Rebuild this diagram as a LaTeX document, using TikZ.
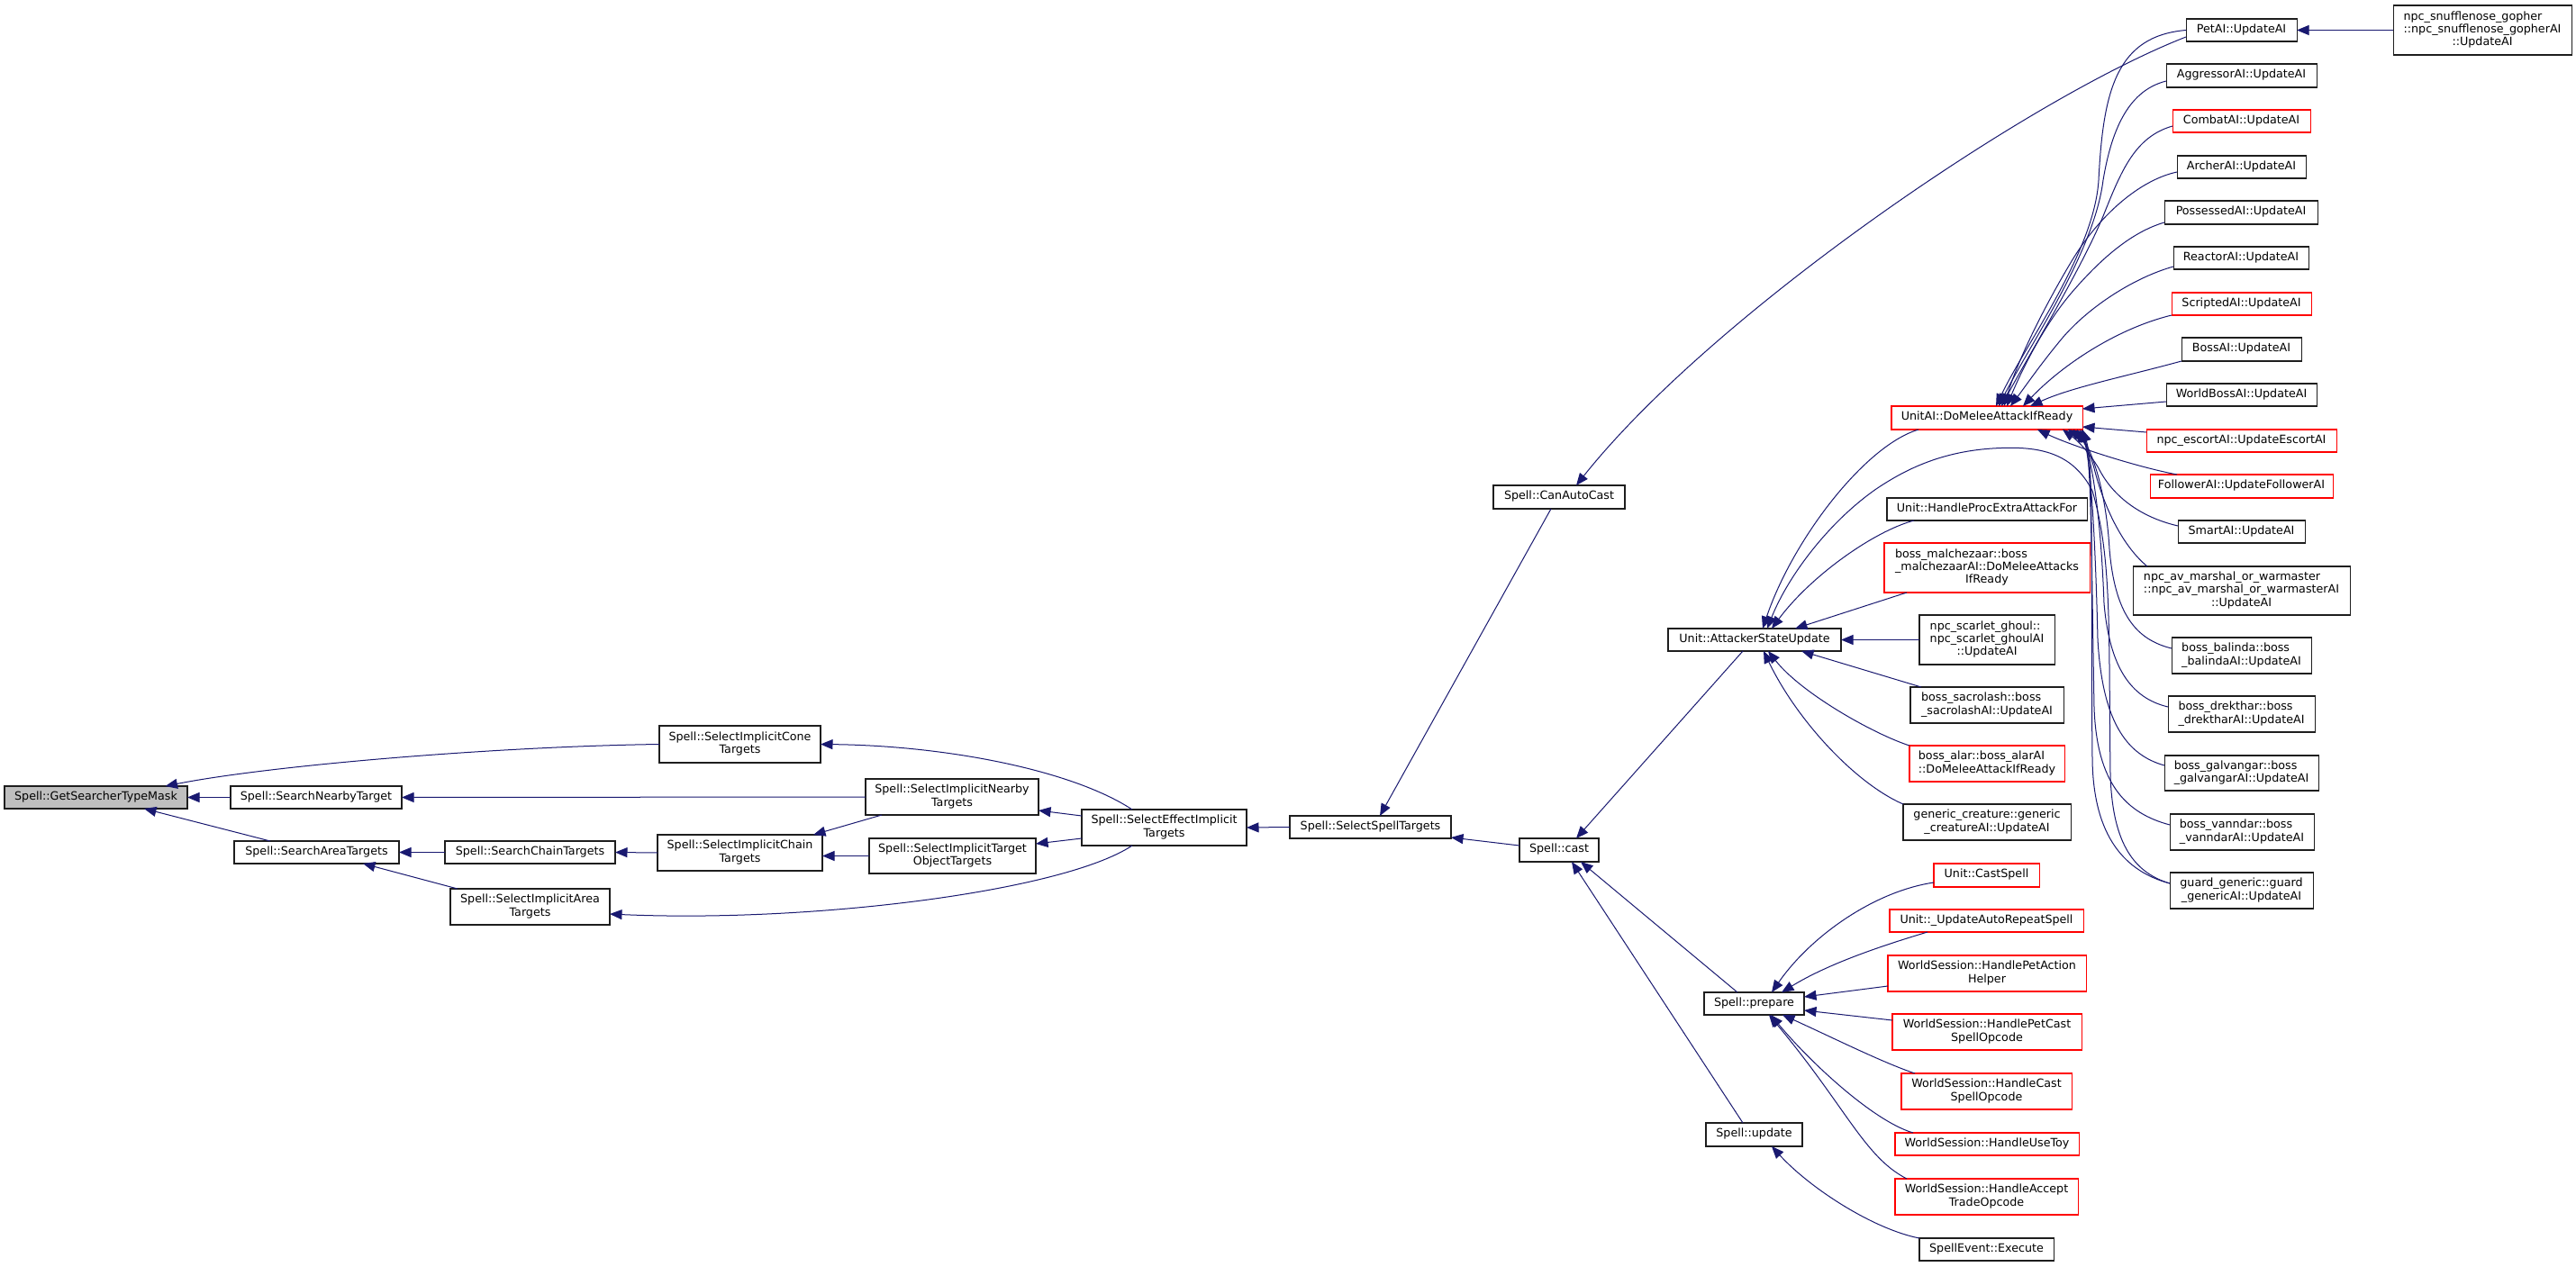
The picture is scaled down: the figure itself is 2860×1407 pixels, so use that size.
\documentclass[tikz,border=0pt]{standalone}
\usepackage{fontspec}
\setmainfont{DejaVu Sans}
\usetikzlibrary{arrows.meta}
\definecolor{edgec}{RGB}{25,25,112}
\definecolor{rootfill}{RGB}{191,191,191}
\definecolor{redb}{RGB}{255,0,0}
\definecolor{bordc}{RGB}{30,30,30}
\newcommand\bx[7]{%
  \pgfmathsetmacro\bxw{#4-#2}\pgfmathsetmacro\bxh{#5-#3}%
  \node[#6, minimum width=\bxw pt, minimum height=\bxh pt] (#1) at ({(#2+#4)/2},{(#3+#5)/2}) {#7};}
\newcommand\ml[2]{\begin{tabular}{@{}l@{}}#1\\\multicolumn{1}{@{}c@{}}{#2}\end{tabular}}
\newcommand\one[1]{\strut #1}
\begin{document}
\begin{tikzpicture}[x=1pt,y=-1pt,
  box/.style={draw=bordc, line width=1.05pt, inner sep=0pt, outer sep=0pt, fill=white, font=\fontsize{12.7}{14.3}\selectfont},
  redbox/.style={box, draw=redb},
  rootbox/.style={box, fill=rootfill},
  edge/.style={draw=edgec, line width=1.0pt, -{Triangle[length=13.5pt,width=11pt]}}]
\fill[white] (0,0) rectangle (2860,1407);
\useasboundingbox (0,0) rectangle (2860,1407);
% nodes
\bx{n0}{5}{873}{208}{898}{rootbox}{\one{Spell::GetSearcherTypeMask}}
\bx{n1}{256}{873}{446}{898}{box}{\one{Spell::SearchNearbyTarget}}
\bx{n2}{260}{934}{443}{959}{box}{\one{Spell::SearchAreaTargets}}
\bx{n3}{494}{934}{683}{959}{box}{\one{Spell::SearchChainTargets}}
\bx{n4}{500}{987}{677}{1027}{box}{\ml{Spell::SelectImplicitArea}{Targets}}
\bx{n5}{732}{806}{911}{847}{box}{\ml{Spell::SelectImplicitCone}{Targets}}
\bx{n6}{961}{865}{1153}{905}{box}{\ml{Spell::SelectImplicitNearby}{Targets}}
\bx{n7}{730}{927}{913}{967}{box}{\ml{Spell::SelectImplicitChain}{Targets}}
\bx{n8}{965}{931}{1150}{970}{box}{\ml{Spell::SelectImplicitTarget}{ObjectTargets}}
\bx{n9}{1201}{899}{1384}{939}{box}{\ml{Spell::SelectEffectImplicit}{Targets}}
\bx{n10}{1432}{906}{1611}{931}{box}{\one{Spell::SelectSpellTargets}}
\bx{n11}{1658}{539}{1804}{565}{box}{\one{Spell::CanAutoCast}}
\bx{n12}{1687}{931}{1775}{957}{box}{\one{Spell::cast}}
\bx{n13}{1852}{698}{2044}{723}{box}{\one{Unit::AttackerStateUpdate}}
\bx{n14}{1892}{1102}{2003}{1127}{box}{\one{Spell::prepare}}
\bx{n15}{1894}{1247}{2001}{1273}{box}{\one{Spell::update}}
\bx{n16}{2100}{451}{2312}{477}{redbox}{\one{UnitAI::DoMeleeAttackIfReady}}
\bx{n17}{2095}{553}{2317}{578}{box}{\one{Unit::HandleProcExtraAttackFor}}
\bx{n18}{2092}{603}{2320}{658}{redbox}{\ml{boss\_malchezaar::boss\\\_malchezaarAI::DoMeleeAttacks}{IfReady}}
\bx{n19}{2131}{683}{2281}{738}{box}{\ml{npc\_scarlet\_ghoul::\\npc\_scarlet\_ghoulAI}{::UpdateAI}}
\bx{n20}{2121}{763}{2291}{803}{box}{\ml{boss\_sacrolash::boss}{\_sacrolashAI::UpdateAI}}
\bx{n21}{2120}{828}{2292}{868}{redbox}{\ml{boss\_alar::boss\_alarAI}{::DoMeleeAttackIfReady}}
\bx{n22}{2113}{893}{2299}{933}{box}{\ml{generic\_creature::generic}{\_creatureAI::UpdateAI}}
\bx{n23}{2147}{959}{2264}{985}{redbox}{\one{Unit::CastSpell}}
\bx{n24}{2098}{1010}{2313}{1035}{redbox}{\one{Unit::\_UpdateAutoRepeatSpell}}
\bx{n25}{2096}{1061}{2316}{1101}{redbox}{\ml{WorldSession::HandlePetAction}{Helper}}
\bx{n26}{2101}{1126}{2311}{1166}{redbox}{\ml{WorldSession::HandlePetCast}{SpellOpcode}}
\bx{n27}{2111}{1192}{2300}{1232}{redbox}{\ml{WorldSession::HandleCast}{SpellOpcode}}
\bx{n28}{2104}{1258}{2308}{1283}{redbox}{\one{WorldSession::HandleUseToy}}
\bx{n29}{2104}{1309}{2307}{1349}{redbox}{\ml{WorldSession::HandleAccept}{TradeOpcode}}
\bx{n30}{2131}{1375}{2280}{1400}{box}{\one{SpellEvent::Execute}}
\bx{n31}{2427}{21}{2550}{46}{box}{\one{PetAI::UpdateAI}}
\bx{n32}{2657}{6}{2855}{61}{box}{\ml{npc\_snufflenose\_gopher\\::npc\_snufflenose\_gopherAI}{::UpdateAI}}
\bx{n33}{2405}{71}{2572}{97}{box}{\one{AggressorAI::UpdateAI}}
\bx{n34}{2412}{122}{2565}{147}{redbox}{\one{CombatAI::UpdateAI}}
\bx{n35}{2417}{173}{2560}{198}{box}{\one{ArcherAI::UpdateAI}}
\bx{n36}{2403}{223}{2573}{249}{box}{\one{PossessedAI::UpdateAI}}
\bx{n37}{2413}{274}{2563}{299}{box}{\one{ReactorAI::UpdateAI}}
\bx{n38}{2411}{325}{2566}{350}{redbox}{\one{ScriptedAI::UpdateAI}}
\bx{n39}{2422}{375}{2555}{401}{box}{\one{BossAI::UpdateAI}}
\bx{n40}{2405}{426}{2572}{451}{box}{\one{WorldBossAI::UpdateAI}}
\bx{n41}{2383}{477}{2594}{502}{redbox}{\one{npc\_escortAI::UpdateEscortAI}}
\bx{n42}{2387}{527}{2590}{553}{redbox}{\one{FollowerAI::UpdateFollowerAI}}
\bx{n43}{2418}{578}{2559}{603}{box}{\one{SmartAI::UpdateAI}}
\bx{n44}{2368}{629}{2609}{683}{box}{\ml{npc\_av\_marshal\_or\_warmaster\\::npc\_av\_marshal\_or\_warmasterAI}{::UpdateAI}}
\bx{n45}{2411}{708}{2566}{748}{box}{\ml{boss\_balinda::boss}{\_balindaAI::UpdateAI}}
\bx{n46}{2407}{773}{2570}{813}{box}{\ml{boss\_drekthar::boss}{\_drektharAI::UpdateAI}}
\bx{n47}{2403}{839}{2574}{878}{box}{\ml{boss\_galvangar::boss}{\_galvangarAI::UpdateAI}}
\bx{n48}{2409}{904}{2569}{944}{box}{\ml{boss\_vanndar::boss}{\_vanndarAI::UpdateAI}}
\bx{n49}{2409}{969}{2568}{1009}{box}{\ml{guard\_generic::guard}{\_genericAI::UpdateAI}}
% edges: left part
\draw[edge] (n1.west) -- (n0.east);
\draw[edge] ([xshift=-51.5pt]n2.north) -- ([xshift=53.5pt]n0.south);
\draw[edge] (n5.west) .. controls (550,829) and (300,850) .. ([xshift=77pt]n0.north);
\draw[edge] (n6.west) -- (n1.east);
\draw[edge] (n3.west) -- (n2.east);
\draw[edge] ([xshift=-80.5pt]n4.north) -- ([xshift=51.5pt]n2.south);
\draw[edge] (n7.west) -- (n3.east);
\draw[edge] ([xshift=-78pt]n6.south) -- ([xshift=81.5pt]n7.north);
\draw[edge] (n8.west) -- (n8.west -| n7.east);
\draw[edge] ([xshift=-35.5pt]n9.north) .. controls (1190,855) and (1050,828) .. (n5.east);
\draw[edge] ([yshift=13pt]n9.west) -- ([yshift=-15pt]n6.east);
\draw[edge] ([yshift=-12pt]n9.west) -- ([yshift=13.5pt]n8.east);
\draw[edge] ([xshift=-35.5pt]n9.south) .. controls (1180,990) and (900,1025) .. ([yshift=-8pt]n4.east);
\draw[edge] (n10.west) -- (n9.east);
\draw[edge] ([xshift=-9pt]n11.south) -- ([xshift=10.5pt]n10.north);
\draw[edge] ([yshift=5pt]n12.west) -- ([yshift=1pt]n10.south east);
\draw[edge] ([yshift=-7.5pt]n31.west) .. controls (2250,110) and (1900,350) .. ([xshift=19pt]n11.north);
\draw[edge] ([xshift=-13pt]n13.south) -- ([xshift=19pt]n12.north);
\draw[edge] ([xshift=-18.5pt]n14.north) -- ([xshift=24pt]n12.south);
\draw[edge] ([xshift=-12.5pt]n15.north) -- ([xshift=14pt]n12.south);
% into AttackerStateUpdate
\draw[edge] ([xshift=-76pt]n16.south) .. controls (2070,495) and (1990,600) .. ([xshift=9pt]n13.north);
\draw[edge] ([yshift=8pt]n49.west) .. controls (2365,968) and (2345,930) .. (2343,860)
   .. controls (2341,700) and (2345,620) .. (2323,545)
   .. controls (2300,500) and (2260,495) .. (2212,498)
   .. controls (2150,502) and (2110,525) .. (2083,543)
   .. controls (2030,580) and (1985,640) .. ([xshift=14pt]n13.north);
\draw[edge] ([xshift=-81pt]n17.south) .. controls (2080,590) and (2010,640) .. ([xshift=19pt]n13.north);
\draw[edge] ([xshift=-89pt]n18.south) -- ([xshift=45pt]n13.north);
\draw[edge] (n19.west) -- (n13.east);
\draw[edge] ([xshift=-73pt]n20.north) -- ([xshift=52pt]n13.south);
\draw[edge] (n21.north west) .. controls (2080,815) and (2000,770) .. ([xshift=15pt]n13.south);
\draw[edge] (n22.north west) .. controls (2060,870) and (1995,800) .. ([xshift=10pt]n13.south);
% into prepare / update
\draw[edge] ([yshift=-8pt]n23.west) .. controls (2080,990) and (2010,1040) .. ([xshift=19.5pt]n14.north);
\draw[edge] ([xshift=-65.5pt]n24.south) .. controls (2090,1050) and (2030,1070) .. ([xshift=30.5pt]n14.north);
\draw[edge] ([yshift=-14pt]n25.west) -- ([yshift=7.5pt]n14.east);
\draw[edge] ([yshift=13pt]n26.west) -- ([yshift=-7.5pt]n14.east);
\draw[edge] ([xshift=-79.5pt]n27.north) .. controls (2090,1180) and (2030,1150) .. ([xshift=31.5pt]n14.south);
\draw[edge] ([xshift=-82pt]n28.north) .. controls (2080,1245) and (2010,1180) .. ([xshift=18.5pt]n14.south);
\draw[edge] ([xshift=-88.5pt]n29.north) .. controls (2070,1285) and (2050,1230) .. ([xshift=16.5pt]n14.south);
\draw[edge] (n30.north west) .. controls (2080,1365) and (2010,1320) .. ([xshift=19.5pt]n15.south);
% into DoMeleeAttackIfReady and PetAI
\draw[edge] (n32.west) -- (n31.east);
\draw[edge] (n31.west) .. controls (2350,40) and (2335,100) .. (2330,200) .. controls (2325,280) and (2250,380) .. ([xshift=10pt]n16.north);
\draw[edge] ([yshift=-6pt]n33.west) .. controls (2365,100) and (2345,140) .. (2335,200) .. controls (2325,280) and (2255,380) .. ([xshift=13pt]n16.north);
\draw[edge] ([yshift=-5.5pt]n34.west) .. controls (2370,152) and (2355,190) .. (2335,240) .. controls (2310,300) and (2255,390) .. ([xshift=16pt]n16.north);
\draw[edge] ([yshift=-5.5pt]n35.west) .. controls (2375,200) and (2330,240) .. (2300,290) .. controls (2270,340) and (2240,400) .. ([xshift=19pt]n16.north);
\draw[edge] ([yshift=-11pt]n36.west) .. controls (2365,258) and (2330,290) .. (2300,325) .. controls (2270,360) and (2245,410) .. ([xshift=22pt]n16.north);
\draw[edge] ([yshift=-9.5pt]n37.west) .. controls (2370,308) and (2320,340) .. (2290,375) .. controls (2265,405) and (2248,430) .. ([xshift=26pt]n16.north);
\draw[edge] (n38.south west) .. controls (2350,365) and (2290,405) .. ([xshift=40pt]n16.north);
\draw[edge] (n39.south west) .. controls (2360,418) and (2300,430) .. ([xshift=48pt]n16.north);
\draw[edge] ([yshift=-7.5pt]n40.west) -- ([yshift=10pt]n16.east);
\draw[edge] ([yshift=9.5pt]n41.west) -- ([yshift=-10pt]n16.east);
\draw[edge] ([xshift=-71.5pt]n42.north) .. controls (2370,518) and (2300,495) .. ([xshift=56pt]n16.south);
\draw[edge] ([yshift=6.5pt]n43.west) .. controls (2375,574) and (2345,550) .. (2330,520) .. controls (2318,500) and (2305,488) .. ([xshift=84pt]n16.south);
\draw[edge] ([xshift=-104.5pt]n44.north) .. controls (2355,605) and (2335,560) .. (2325,520) .. controls (2318,495) and (2310,485) .. ([xshift=90pt]n16.south);
\draw[edge] ([yshift=8pt]n45.west) .. controls (2370,710) and (2348,680) .. (2342,610) .. controls (2338,540) and (2320,495) .. ([xshift=96pt]n16.south);
\draw[edge] ([yshift=8pt]n46.west) .. controls (2365,775) and (2342,740) .. (2336,670) .. controls (2332,560) and (2320,500) .. ([xshift=100pt]n16.south);
\draw[edge] ([yshift=8.5pt]n47.west) .. controls (2360,838) and (2334,800) .. (2329,710) .. controls (2326,580) and (2320,505) .. ([xshift=103pt]n16.south);
\draw[edge] ([yshift=8pt]n48.west) .. controls (2360,903) and (2328,870) .. (2325,786) .. controls (2322,620) and (2322,510) .. ([xshift=105pt]n16.south);
\draw[edge] ([yshift=8pt]n49.west) .. controls (2360,968) and (2324,930) .. (2323,843) .. controls (2321,650) and (2325,515) .. ([xshift=106pt]n16.south);
\end{tikzpicture}
\end{document}
